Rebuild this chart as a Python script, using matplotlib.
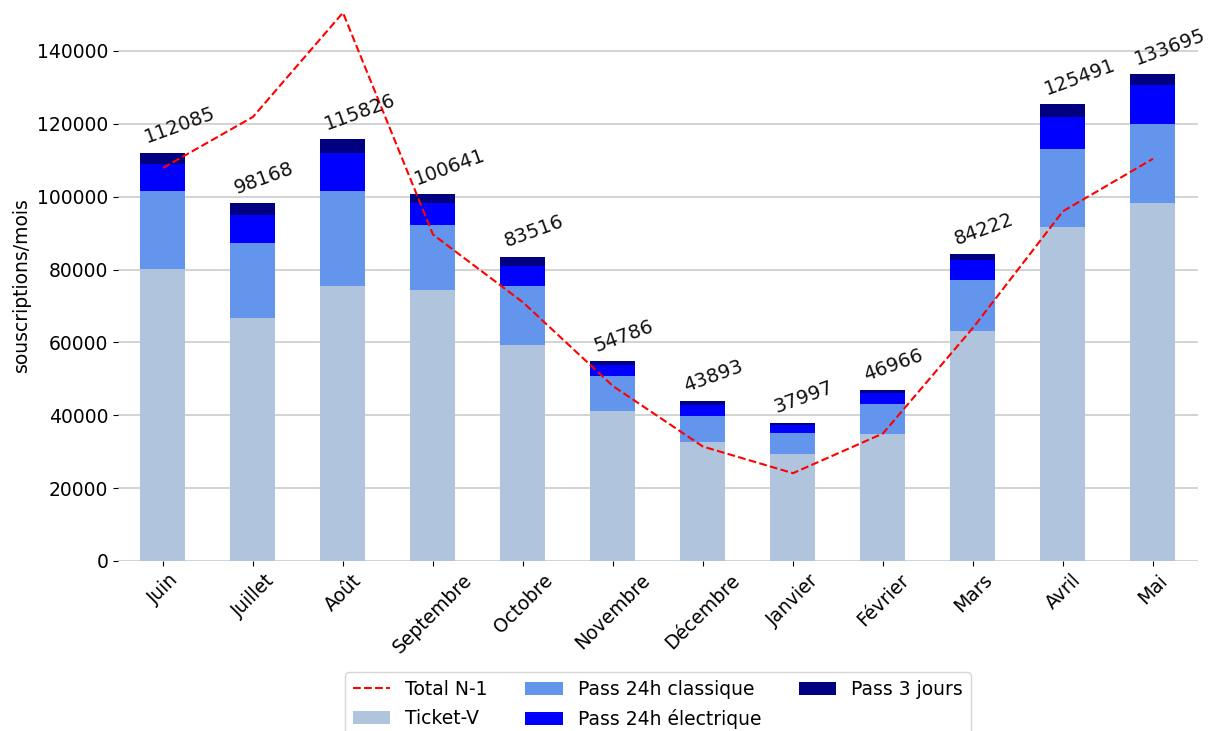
import numpy as np
import matplotlib
matplotlib.use("Agg")
import matplotlib.pyplot as plt

mois = ["Juin", "Juillet", "Août", "Septembre", "Octobre", "Novembre",
        "Décembre", "Janvier", "Février", "Mars", "Avril", "Mai"]

ticket_v = [80100, 66700, 75400, 74300, 59300, 41200, 32600, 29400, 34800, 63000, 91800, 98200]
pass_24h_classique = [21400, 20700, 26100, 17800, 16100, 9600, 7300, 5800, 8400, 14000, 21400, 21800]
pass_24h_electrique = [7500, 7700, 10400, 6200, 5700, 2900, 2900, 2000, 2800, 5600, 8800, 10600]
pass_3_jours = [3085, 3068, 3926, 2341, 2416, 1086, 1093, 797, 966, 1622, 3491, 3095]
total_n1 = [107900, 121900, 150500, 89600, 71000, 48000, 31400, 24100, 35000, 64000, 96000, 110400]

series = [
    ("Ticket-V", ticket_v, "lightsteelblue"),
    ("Pass 24h classique", pass_24h_classique, "cornflowerblue"),
    ("Pass 24h électrique", pass_24h_electrique, "blue"),
    ("Pass 3 jours", pass_3_jours, "navy"),
]

fig = plt.figure(figsize=(12.15, 7.31), dpi=100)
ax = fig.add_axes([0.0971, 0.2326, 0.8889, 0.7575])

x = np.arange(len(mois))
bottom = np.zeros(len(mois))
for label, vals, color in series:
    ax.bar(x, vals, width=0.5, bottom=bottom, color=color, label=label, zorder=2)
    bottom += np.array(vals)

ax.plot(x, total_n1, color="red", linestyle="--", linewidth=1.5, label="Total N-1", zorder=3)

for xi, tot in zip(x, bottom):
    ax.text(xi - 0.24, tot + 1500, f"{int(tot)}", rotation=20, ha="left", va="bottom",
            fontsize=14, color="#111111")

ax.set_xlim(-0.5, len(mois) - 0.5)
ax.set_ylim(0, 152000)
ax.set_yticks(np.arange(0, 140001, 20000))
ax.set_xticks(x)
ax.set_xticklabels(mois, rotation=45, ha="center", fontsize=13.5)
ax.tick_params(axis="y", labelsize=13.5)
ax.set_ylabel("souscriptions/mois", fontsize=13.5)
ax.yaxis.grid(True, color="#cccccc", linewidth=1.2, zorder=0)
ax.set_axisbelow(True)
for s in ax.spines.values():
    s.set_visible(False)

ax.legend(loc="upper center", bbox_to_anchor=(0.5, -0.184), ncol=3, fontsize=13.5,
          labelspacing=0.55)

fig.savefig("out.png", dpi=100)
